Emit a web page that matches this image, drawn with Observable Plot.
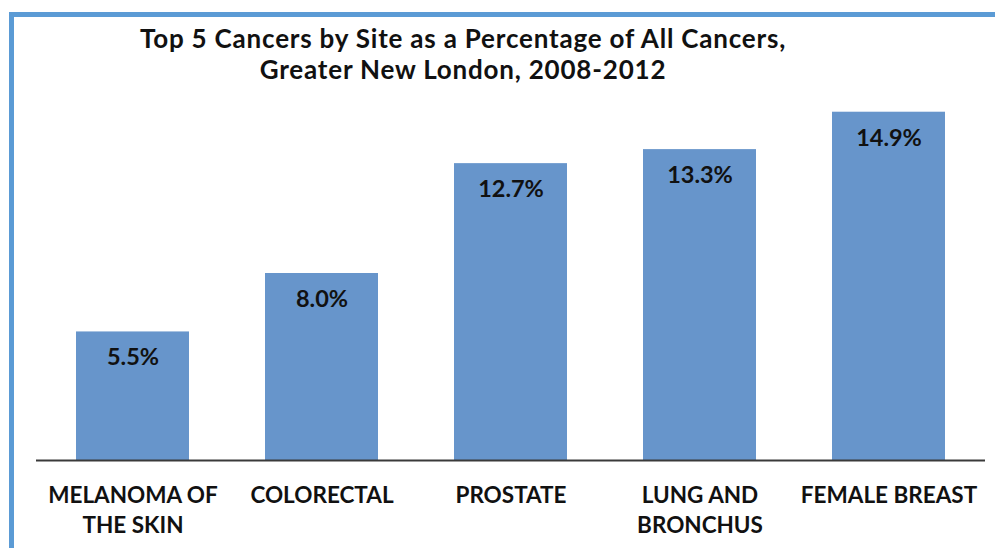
<!DOCTYPE html>
<html>
<head>
<meta charset="utf-8">
<script src="https://cdn.jsdelivr.net/npm/d3@7"></script>
<script src="https://cdn.jsdelivr.net/npm/@observablehq/plot@0.6"></script>
<style>
  html, body { margin: 0; padding: 0; background: #fff; }
  #wrap { position: relative; width: 995px; height: 548px; overflow: hidden; font-family: Lato, "Noto Sans", sans-serif; }
  #frame { position: absolute; left: 9px; top: 12px; right: -10px; bottom: -10px; border-top: 5px solid #5B9BD5; border-left: 5px solid #5B9BD5; }
  #title { position: absolute; left: 0; width: 926px; top: 23px; text-align: center; font-weight: 700; font-size: 26px; letter-spacing: 0.8px; line-height: 31px; color: #111; }
  #chart { position: absolute; left: 0; top: 0; }
</style>
</head>
<body>
<div id="wrap">
  <div id="frame"></div>
  <div id="chart"></div>
  <div id="title">Top 5 Cancers by Site as a Percentage of All Cancers,<br>Greater New London, 2008-2012</div>
</div>
<script>
const categories = ["MELANOMA OF THE SKIN", "COLORECTAL", "PROSTATE", "LUNG AND BRONCHUS", "FEMALE BREAST"];
const tickLabels = ["MELANOMA OF\nTHE SKIN", "COLORECTAL", "PROSTATE", "LUNG AND\nBRONCHUS", "FEMALE BREAST"];
const values = [5.5, 8.0, 12.7, 13.3, 14.9];

const data = categories.map((c, i) => ({category: c, value: values[i], label: values[i].toFixed(1) + "%"}));
const labelOf = new Map(categories.map((c, i) => [c, tickLabels[i]]));

const chart = Plot.plot({
  width: 995,
  height: 548,
  marginTop: 86,
  marginBottom: 88,
  marginLeft: 36,
  marginRight: 10,
  style: {fontFamily: "Lato, 'Noto Sans', sans-serif", background: "transparent", color: "#111"},
  x: {domain: categories, paddingInner: 0.4, paddingOuter: 0.2, label: null},
  y: {domain: [0, 16], axis: null},
  marks: [
    Plot.barY(data, {x: "category", y: "value", fill: "#6795CB"}),
    Plot.ruleY([0], {stroke: "#3a3a3a", strokeWidth: 2}),
    Plot.text(data, {x: "category", y: "value", text: "label", dy: 26, lineAnchor: "middle", fontSize: 23.5, fontWeight: 700, fill: "#111"}),
    Plot.axisX({tickSize: 0, tickPadding: 21, fontSize: 22.5, fontWeight: 700, lineHeight: 1.33, tickFormat: d => labelOf.get(d), fill: "#111"})
  ]
});
document.getElementById("chart").appendChild(chart);
</script>
</body>
</html>
